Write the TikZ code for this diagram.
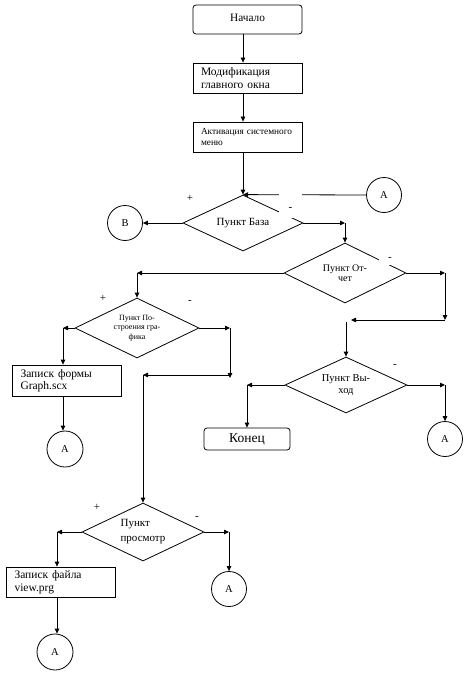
\documentclass[tikz,border=0pt]{standalone}
\usepackage{fontspec}
\setmainfont{Liberation Serif}
\usetikzlibrary{shapes.geometric,arrows.meta}
\begin{document}
\begin{tikzpicture}[x=1pt,y=-1pt,
  every node/.style={inner sep=0pt},
  arr/.style={line width=0.8pt,-{Triangle[length=5pt,width=4.5pt]}},
  blk/.style={draw,line width=0.8pt,rectangle,minimum width=109pt,minimum height=30pt,text width=93pt,inner xsep=8pt,align=left,font=\fontsize{11.5}{12.5}\selectfont},
  term/.style={draw,line width=0.8pt,rounded corners=3pt,rectangle,align=center},
  dia/.style={draw,line width=0.8pt,diamond,aspect=2.2,inner sep=0pt,align=center,font=\fontsize{10}{10}\selectfont},
  con/.style={draw,line width=0.8pt,circle,minimum size=35pt,font=\fontsize{10.5}{12}\selectfont},
  sgn/.style={font=\fontsize{11}{12}\selectfont}
]
\path[fill=white] (0,0) rectangle (464,682);
\useasboundingbox (0,0) rectangle (464,682);

% nodes
\node[term,minimum width=109pt,minimum height=29pt,font=\fontsize{11.3}{12}\selectfont] (start) at (247.5,19.5) {\raisebox{3pt}{Начало}};
\node[blk] (mod) at (247.5,78) {Модификация\\главного окна};
\node[blk,font=\fontsize{9.3}{10.5}\selectfont] (act) at (247.5,137) {Активация системного\\меню};
\node[dia,minimum width=120pt,minimum height=56pt,font=\fontsize{11}{12}\selectfont] (d1) at (243,223) {Пункт База};
\node[con] (B) at (125,223) {B};
\node[con] (A1) at (384,195) {A};
\node[dia,minimum width=122pt,minimum height=60pt] (d2) at (345,273) {Пункт От-\\чет};
\node[dia,minimum width=124pt,minimum height=60pt,font=\fontsize{8}{9.5}\selectfont] (d3) at (137,328) {Пункт По-\\строения гра-\\фика};
\node[dia,minimum width=122pt,minimum height=56pt,font=\fontsize{10.5}{12}\selectfont] (d4) at (346,385) {Пункт Вы-\\ход};
\node[term,minimum width=86pt,minimum height=22pt,font=\fontsize{13.5}{14}\selectfont] (end) at (247,439) {Конец};
\node[con] (A2) at (445,439) {A};
\node[blk,minimum height=31pt] (g) at (67,380.5) {Записк формы\\Graph.scx};
\node[con,minimum size=36pt] (A3) at (65,449) {A};
\node[dia,minimum width=122pt,minimum height=58pt,align=left,font=\fontsize{11}{15}\selectfont] (d5) at (143,532) {Пункт\\просмотр};
\node[blk] (v) at (61,582) {Записк файла\\view.prg};
\node[con,minimum size=36pt] (A4) at (55,652) {A};
\node[con] (A5) at (229,589) {A};

% corners
\coordinate (c1) at (d2.north |- d1.east);
\coordinate (c2) at (d3.north |- d2.west);
\coordinate (c3) at (445,273);
\coordinate (c4) at (445,320);
\coordinate (c5) at (351,320);
\coordinate (c6) at (346,322);
\coordinate (c7) at (end.north |- d4.west);
\coordinate (c8) at (A2.north |- d4.east);
\coordinate (c9) at (63,328);
\coordinate (c10) at (230,328);
\coordinate (c11) at (230,378);
\coordinate (c12) at (230,375);
\coordinate (c13) at (143,375);
\coordinate (c14) at (57,532);
\coordinate (c15) at (A5.north |- d5.east);

% connectors
\draw[arr] (d1.north |- start.south) -- (d1.north |- mod.north);
\draw[arr] (d1.north |- mod.south) -- (d1.north |- act.north);
\draw[arr] (d1.north |- act.south) -- (d1.north);
\draw[arr] (A1.west) -- (d1.north);
\draw[arr] (d1.west) -- (B.east);
\draw[arr] (d1.east) -- (c1);
\draw[arr] (c1) -- (d2.north);
\draw[arr] (d2.west) -- (c2);
\draw[arr] (c2) -- (d3.north);
\draw[arr] (d2.east) -- (c3);
\draw[arr] (c3) -- (c4);
\draw[arr] (c4) -- (c5);
\draw[arr] (c6) -- (d4.north);
\draw[arr] (d4.west) -- (c7);
\draw[arr] (c7) -- (end.north);
\draw[arr] (d4.east) -- (c8);
\draw[arr] (c8) -- (A2.north);
\draw[arr] (d3.west) -- (c9);
\draw[arr] (c9) -- (c9 |- g.north);
\draw[arr] (c9 |- g.south) -- (c9 |- A3.north);
\draw[arr] (d3.east) -- (c10);
\draw[arr] (c10) -- (c11);
\draw[arr] (c12) -- (c13);
\draw[arr] (c13) -- (d5.north);
\draw[arr] (d5.west) -- (c14);
\draw[arr] (c14) -- (c14 |- v.north);
\draw[arr] (c14 |- v.south) -- (c14 |- A4.north);
\draw[arr] (d5.east) -- (c15);
\draw[arr] (c15) -- (A5.north);

% branch labels
\node[sgn] (p1) at (190,198) {+};
\node[sgn,fill=white,minimum width=23pt,minimum height=30pt,text height=15pt,text depth=0pt] (m1) at (290.5,203) {-};
\node[sgn,fill=white,minimum width=22pt,minimum height=20pt,text height=11pt,text depth=0pt] (m2) at (390,255) {-};
\node[sgn] (p3) at (103,298) {+};
\node[sgn] (m3) at (190,302) {-};
\node[sgn] (m4) at (395,366) {-};
\node[sgn] (p5) at (97,507) {+};
\node[sgn] (m5) at (197,518) {-};
\end{tikzpicture}
\end{document}
